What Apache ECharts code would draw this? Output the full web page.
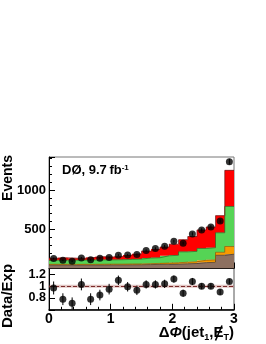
<!DOCTYPE html>
<html><head><meta charset="utf-8">
<script src="https://cdn.jsdelivr.net/npm/echarts@6/dist/echarts.min.js"></script>
<style>html,body{margin:0;padding:0;background:#fff}#c{width:266px;height:344px}</style>
</head><body><div id="c"></div>
<script>
// ---- data ----
const binEdges = [0,0.15,0.3,0.45,0.6,0.75,0.9,1.05,1.2,1.35,1.5,1.65,1.8,1.95,2.1,2.25,2.4,2.55,2.7,2.85,3.0];
const dataEvents = [127,106,93,135,110,131,140,169,173,178,229,254,284,347,322,440,491,529,606,1360];
const dataEventsErr = [11,10,10,12,10,11,12,13,13,13,15,16,17,19,18,21,22,23,25,37];
const bkgBrown  = [45,45,44,45,45,45,46,46,47,48,50,52,54,56,60,64,75,78,168,182];
const bkgOrange = [8,8,8,8,8,9,9,9,10,10,12,13,15,17,20,22,30,32,38,98];
const bkgGreen  = [52,53,54,54,55,56,55,57,59,62,71,72,93,95,132,132,150,155,249,510];
const bkgRed    = [26,30,25,24,33,40,37,42,56,68,89,110,111,142,154,189,236,264,218,460];
const ratio     = [0.97,0.78,0.71,1.03,0.78,0.85,0.95,1.10,0.99,0.93,1.03,1.03,1.04,1.12,0.88,1.08,1.00,1.00,0.90,1.08];
const ratioErr  = [0.11,0.10,0.10,0.10,0.10,0.09,0.09,0.08,0.08,0.08,0.07,0.07,0.07,0.06,0.06,0.06,0.05,0.05,0.05,0.04];
const yTicksTop = [500, 1000];
const yTicksRatio = [0.8, 1, 1.2];
const xTicks = [0, 1, 2, 3];

// ---- layout ----
const FONT = 'Liberation Sans, Arial, Helvetica, sans-serif';
const L = 49, R = 234, T = 157, M = 268.5, B = 309.8;

const components = [
  {vals: bkgBrown,  fill: '#8d7060', edge: '#4a3a30'},
  {vals: bkgOrange, fill: '#f79a00', edge: '#9a6000'},
  {vals: bkgGreen,  fill: '#55d455', edge: '#2a7a2a'},
  {vals: bkgRed,    fill: '#ff0000', edge: '#7a1010'}
];
const centers = dataEvents.map((_, i) => (binEdges[i] + binEdges[i+1]) / 2);

const series = [];
let base = dataEvents.map(() => 0);
components.forEach(c => {
  const rows = c.vals.map((v, i) => [binEdges[i], binEdges[i+1], base[i], base[i] + v]);
  const tops = rows.map(r => r[3]);
  series.push({
    type: 'custom', xAxisIndex: 0, yAxisIndex: 0, clip: true, silent: true,
    data: rows,
    renderItem: (params, api) => {
      const p0 = api.coord([api.value(0), api.value(3)]);
      const p1 = api.coord([api.value(1), api.value(2)]);
      const x0 = Math.round(p0[0]), x1 = Math.round(p1[0]);
      return {type: 'rect', shape: {x: x0, y: p0[1], width: x1 - x0, height: p1[1] - p0[1]},
              style: {fill: c.fill}};
    }
  });
  const stepData = tops.map((t, i) => [binEdges[i], t]);
  stepData.push([binEdges[binEdges.length-1], tops[tops.length-1]]);
  series.push({
    type: 'line', xAxisIndex: 0, yAxisIndex: 0, step: 'end', symbol: 'none', silent: true,
    data: stepData, lineStyle: {color: c.edge, width: 0.8}, z: 3
  });
  base = tops;
});

function errRender(params, api) {
  const x = api.value(0), y = api.value(1), e = api.value(2);
  const a = api.coord([x, y - e]), b = api.coord([x, y + e]);
  return {type: 'line', shape: {x1: a[0], y1: a[1], x2: b[0], y2: b[1]}, style: {stroke: '#000', lineWidth: 1}};
}

series.push({
  type: 'custom', xAxisIndex: 0, yAxisIndex: 0, clip: true, z: 4, silent: true,
  data: centers.map((x, i) => [x, dataEvents[i], dataEventsErr[i]]),
  renderItem: errRender
});
series.push({
  type: 'scatter', xAxisIndex: 0, yAxisIndex: 0, symbolSize: 7, z: 5, silent: true,
  itemStyle: {color: '#000'},
  data: centers.map((x, i) => [x, dataEvents[i]])
});
series.push({
  type: 'custom', xAxisIndex: 1, yAxisIndex: 1, clip: true, z: 4, silent: true,
  data: centers.map((x, i) => [x, ratio[i], ratioErr[i]]),
  renderItem: errRender
});
series.push({
  type: 'scatter', xAxisIndex: 1, yAxisIndex: 1, symbolSize: 7, z: 5, silent: true,
  itemStyle: {color: '#000'},
  data: centers.map((x, i) => [x, ratio[i]]),
  markArea: {silent: true, itemStyle: {color: 'rgba(170,90,80,0.35)'},
             data: [[{yAxis: 0.975}, {yAxis: 1.025}]]},
  markLine: {silent: true, symbol: 'none', label: {show: false},
             lineStyle: {color: '#7a2a2a', type: 'dashed', width: 1},
             data: [{yAxis: 1}]}
});

const axisLbl = {fontFamily: FONT, fontWeight: 'bold', fontSize: 13, color: '#000', hideOverlap: false};

// ---- x-axis title pieces, laid out with measured widths ----
const cv = document.createElement('canvas').getContext('2d');
function tw(txt, size, style) {
  cv.font = (style || '') + ' bold ' + size + 'px ' + FONT;
  return cv.measureText(txt).width;
}
const titlePieces = [
  {t: 'Δ', s: 15}, {t: 'Φ', s: 15, it: true}, {t: '(jet', s: 15}, {t: '1', s: 9, sub: true},
  {t: ',', s: 15}, {t: 'E', s: 15, slash: true}, {t: 'T', s: 9, sub: true}, {t: ')', s: 15}
];
const titleMid = 333;
let totalW = 0;
titlePieces.forEach(p => { p.w = tw(p.t, p.s, p.it ? 'italic' : ''); totalW += p.w; });
let cx = R - totalW;
const titleEls = [];
titlePieces.forEach(p => {
  titleEls.push({type: 'text', x: cx, y: titleMid + (p.sub ? 5 : 0), silent: true,
    style: {text: p.t, fontFamily: FONT, fontWeight: 'bold', fontStyle: p.it ? 'italic' : 'normal',
            fontSize: p.s, fill: '#000', align: 'left', verticalAlign: 'middle'}});
  if (p.slash) {
    titleEls.push({type: 'line', silent: true,
      shape: {x1: cx + p.w * 0.2, y1: titleMid + 7.5, x2: cx + p.w * 0.85, y2: titleMid - 7.5},
      style: {stroke: '#000', lineWidth: 1.6}});
  }
  cx += p.w;
});

const option = {
  animation: false,
  backgroundColor: '#fff',
  grid: [
    {left: L, top: T, width: R - L, height: M - T, show: true, borderColor: '#777', borderWidth: 1},
    {left: L, top: M, width: R - L, height: B - M, show: true, borderColor: '#555', borderWidth: 1}
  ],
  xAxis: [
    {type: 'value', gridIndex: 0, min: 0, max: 3, interval: 1,
     axisLine: {show: true, lineStyle: {color: '#000', width: 1}},
     axisTick: {show: true, inside: true, length: 6, lineStyle: {color: '#000'}},
     minorTick: {show: true, splitNumber: 5, length: 3, lineStyle: {color: '#000'}},
     axisLabel: {show: false}, splitLine: {show: false}},
    {type: 'value', gridIndex: 1, min: 0, max: 3, interval: 1,
     axisLine: {show: true, lineStyle: {color: '#000', width: 1.5}},
     axisTick: {show: true, inside: true, length: 6, lineStyle: {color: '#000'}},
     minorTick: {show: true, splitNumber: 5, length: 3, lineStyle: {color: '#000'}},
     axisLabel: Object.assign({}, axisLbl, {fontSize: 14, margin: 2,
       formatter: v => xTicks.includes(v) ? String(v) : ''}),
     splitLine: {show: false}}
  ],
  yAxis: [
    {type: 'value', gridIndex: 0, min: 0, max: 1420, interval: 500,
     axisLine: {show: true, lineStyle: {color: '#000', width: 1}},
     axisTick: {show: true, inside: true, length: 6, lineStyle: {color: '#000'}},
     minorTick: {show: true, splitNumber: 5, length: 3, lineStyle: {color: '#000'}},
     axisLabel: Object.assign({}, axisLbl, {margin: 3,
       formatter: v => yTicksTop.includes(v) ? String(v) : ''}),
     splitLine: {show: false}},
    {type: 'value', gridIndex: 1, min: 0.6, max: 1.3, interval: 0.2,
     axisLine: {show: true, lineStyle: {color: '#000', width: 1}},
     axisTick: {show: true, inside: true, length: 6, lineStyle: {color: '#000'}},
     axisLabel: Object.assign({}, axisLbl, {margin: 3, fontSize: 12.5,
       formatter: v => {
         const r = Math.round(v * 10) / 10;
         return yTicksRatio.includes(r) ? String(r) : '';
       }}),
     splitLine: {show: false}}
  ],
  graphic: [
    {type: 'text', left: 62, top: 164, silent: true,
     style: {text: '{a|DØ, 9.7\u2009fb}{s|-1}', fill: '#000',
       rich: {a: {fontFamily: FONT, fontWeight: 'bold', fontSize: 13, fill: '#000'},
              s: {fontFamily: FONT, fontWeight: 'bold', fontSize: 8, fill: '#000', verticalAlign: 'top'}}}},
    {type: 'text', x: 8, y: 155, rotation: Math.PI / 2, silent: true,
     style: {text: 'Events', fontFamily: FONT, fontWeight: 'bold', fontSize: 14, fill: '#000',
             align: 'right', verticalAlign: 'middle'}},
    {type: 'text', x: 8, y: 296, rotation: Math.PI / 2, silent: true,
     style: {text: 'Data/Exp', fontFamily: FONT, fontWeight: 'bold', fontSize: 15, fill: '#000',
             align: 'center', verticalAlign: 'middle'}}
  ].concat(titleEls),
  series: series
};

const chart = echarts.init(document.getElementById('c'), null, {renderer: 'canvas'});
chart.setOption(option);
</script>
</body></html>
